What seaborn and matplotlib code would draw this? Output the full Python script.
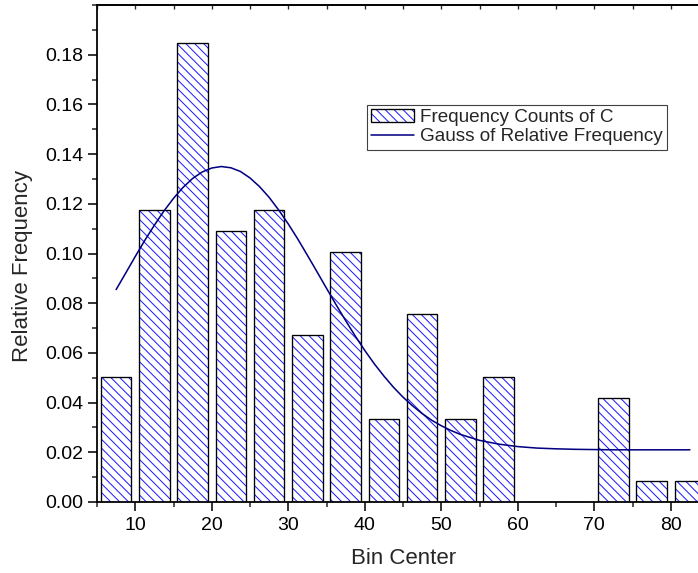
import matplotlib
matplotlib.use("Agg")
import matplotlib.pyplot as plt
import seaborn as sns
from matplotlib.patches import Patch
from matplotlib.lines import Line2D
from matplotlib.ticker import MultipleLocator
from matplotlib.legend_handler import HandlerTuple

# ---- data ----
bin_centers = [7.5, 12.5, 17.5, 22.5, 27.5, 32.5, 37.5, 42.5, 47.5, 52.5,
               57.5, 62.5, 67.5, 72.5, 77.5, 82.5]
rel_freq = [0.0504, 0.1176, 0.1849, 0.1092, 0.1176, 0.0672, 0.1008, 0.0336,
            0.0756, 0.0336, 0.0504, 0.0, 0.0, 0.0420, 0.0084, 0.0084]

gauss_x = [7.5, 8.75, 10, 11.25, 12.5, 13.75, 15, 16.25, 17.5, 18.75, 20,
           21.25, 22.5, 23.75, 25, 26.25, 27.5, 28.75, 30, 31.25, 32.5,
           33.75, 35, 36.25, 37.5, 38.75, 40, 41.25, 42.5, 43.75, 45, 46.25,
           47.5, 48.75, 50, 51.25, 52.5, 55, 57.5, 60, 62.5, 65, 67.5, 70,
           72.5, 75, 77.5, 80, 82.5]
gauss_y = [0.0855, 0.0921, 0.0988, 0.1053, 0.1114, 0.1171, 0.1222, 0.1266,
           0.1302, 0.1328, 0.1344, 0.1350, 0.1345, 0.1330, 0.1304, 0.1269,
           0.1226, 0.1175, 0.1119, 0.1058, 0.0993, 0.0927, 0.0860, 0.0794,
           0.0730, 0.0668, 0.0610, 0.0556, 0.0507, 0.0462, 0.0422, 0.0387,
           0.0356, 0.0329, 0.0307, 0.0288, 0.0272, 0.0248, 0.0233, 0.0223,
           0.0217, 0.0214, 0.0212, 0.0211, 0.0210, 0.0210, 0.0210, 0.0210,
           0.0210]

x_ticks = [10, 20, 30, 40, 50, 60, 70, 80]
y_ticks = [0.00, 0.02, 0.04, 0.06, 0.08, 0.10, 0.12, 0.14, 0.16, 0.18]

bar_label = "Frequency Counts of C"
line_label = "Gauss of Relative Frequency"

# ---- style ----
sns.set_style("ticks")
plt.rcParams["font.family"] = ["Liberation Sans", "DejaVu Sans"]
plt.rcParams["hatch.linewidth"] = 0.9

DPI = 80
W, H = 698, 573
fig = plt.figure(figsize=(W / DPI, H / DPI), dpi=DPI)
ax_left, ax_bottom_px, ax_top_px = 97, 502, 5
ax_w = 612
ax = fig.add_axes([ax_left / W, (H - ax_bottom_px) / H, ax_w / W,
                   (ax_bottom_px - ax_top_px) / H])

hatch_blue = "#1a1aff"
navy = "#000080"
HATCH = "\\\\\\"

# hatch layer
sns.barplot(x=bin_centers, y=rel_freq, native_scale=True, width=0.8, ax=ax,
            color="white")
hatch_bars = list(ax.patches)
for b in hatch_bars:
    b.set_facecolor("white")
    b.set_edgecolor(hatch_blue)
    b.set_hatch(HATCH)
    b.set_linewidth(0)

# outline layer
sns.barplot(x=bin_centers, y=rel_freq, native_scale=True, width=0.8, ax=ax,
            color="white")
outline_bars = ax.patches[len(hatch_bars):]
for b in outline_bars:
    b.set_facecolor("none")
    b.set_edgecolor("black")
    b.set_linewidth(1.2)

sns.lineplot(x=gauss_x, y=gauss_y, ax=ax, color=navy, linewidth=1.4)

ax.set_xlim(5, 85)
ax.set_ylim(0, 0.2)
ax.set_xticks(x_ticks)
ax.set_xticklabels([str(t) for t in x_ticks])
ax.set_yticks(y_ticks)
ax.set_yticklabels([f"{t:.2f}" for t in y_ticks])
ax.xaxis.set_minor_locator(MultipleLocator(5))
ax.yaxis.set_minor_locator(MultipleLocator(0.01))

ax.tick_params(axis="both", which="major", direction="out", length=8.5,
               width=1.4, labelsize=17.5, colors="black")
ax.tick_params(axis="x", which="major", pad=5)
ax.tick_params(axis="y", which="major", pad=4)
ax.tick_params(axis="both", which="minor", direction="out", length=4.5,
               width=1.4)

for s in ["left", "bottom", "top"]:
    ax.spines[s].set_visible(True)
    ax.spines[s].set_linewidth(1.6)
    ax.spines[s].set_color("black")
ax.spines["right"].set_visible(False)

# top axis ticks (inward, no labels)
top = ax.secondary_xaxis("top")
top.set_xticks(x_ticks)
top.xaxis.set_minor_locator(MultipleLocator(5))
top.tick_params(which="both", direction="in", length=4, width=1.2,
                labeltop=False)
top.set_xticklabels([])
top.spines["top"].set_linewidth(1.6)

ax.set_xlabel("Bin Center", fontsize=20)
ax.set_ylabel("Relative Frequency", fontsize=20)
ax.xaxis.set_label_coords(0.5008, -0.0926)
ax.yaxis.set_label_coords(-0.1046, 0.475)

handles = [
    (Patch(facecolor="white", edgecolor=hatch_blue, hatch=HATCH, linewidth=0),
     Patch(facecolor="none", edgecolor="black", linewidth=1.2)),
    Line2D([], [], color=navy, linewidth=1.4),
]
leg = ax.legend(handles, [bar_label, line_label], loc="upper left",
                bbox_to_anchor=(0.441, 0.799), borderaxespad=0,
                fontsize=17, frameon=True, fancybox=False, framealpha=1,
                edgecolor="#404040", borderpad=0.22, labelspacing=0.1,
                handlelength=2.3, handletextpad=0.3, handleheight=0.7,
                handler_map={tuple: HandlerTuple(ndivide=1, pad=0)})
leg.get_frame().set_linewidth(1.0)

fig.savefig("out.png", dpi=DPI)
